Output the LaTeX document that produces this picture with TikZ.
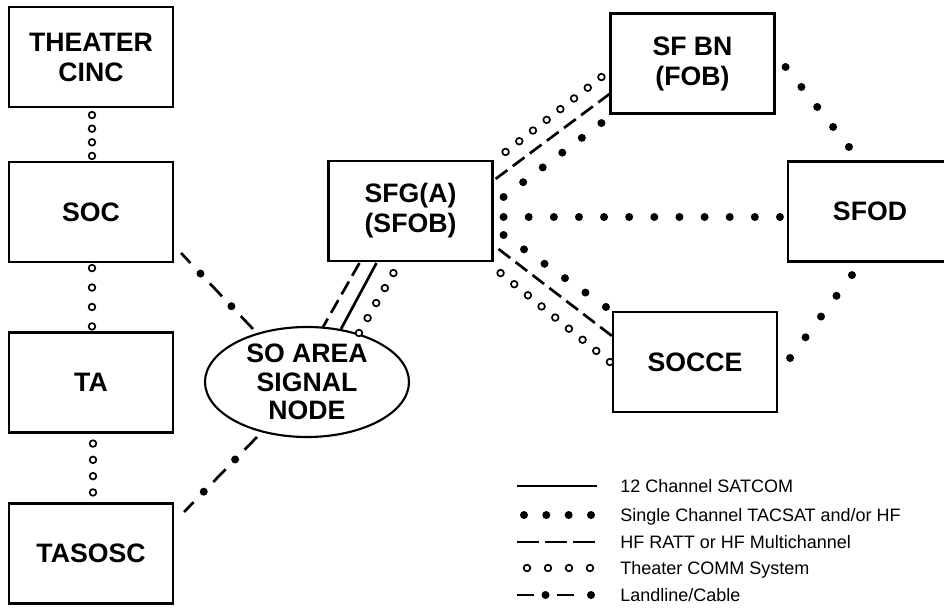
\documentclass[tikz,border=0pt]{standalone}
\usepackage{fontspec}
\setmainfont{Liberation Sans}
\usetikzlibrary{calc,shapes.geometric}
\newcommand\filldots[3]{\foreach \k in {0,...,#3}{\fill ($(#1)!\k/#3!(#2)$) circle[radius=3pt];}}
\newcommand\opendots[3]{\foreach \k in {0,...,#3}{\draw[line width=1.25pt,fill=white] ($(#1)!\k/#3!(#2)$) circle[radius=2.5pt];}}
\newcommand\landln[2]{%
 \draw[line width=2pt] ($(#1)!0!(#2)$) -- ($(#1)!0.13!(#2)$);
 \draw[line width=2pt] ($(#1)!0.40!(#2)$) -- ($(#1)!0.57!(#2)$);
 \draw[line width=2pt] ($(#1)!0.83!(#2)$) -- ($(#1)!1!(#2)$);
 \fill ($(#1)!0.27!(#2)$) circle[radius=3pt];
 \fill ($(#1)!0.70!(#2)$) circle[radius=3pt];}
\begin{document}
\begin{tikzpicture}[x=0.75pt,y=-0.75pt,
  bx/.style={draw, line width=1.6pt, inner sep=0pt, minimum width=123pt, minimum height=75pt,
    align=center, font=\bfseries\fontsize{20}{22.5}\selectfont},
  ell/.style={ellipse, draw, line width=1.6pt, inner sep=0pt, minimum width=153pt, minimum height=82.5pt,
    align=center, font=\bfseries\fontsize{20}{21.5}\selectfont},
  hfdash/.style={line width=2pt, dash pattern=on 11pt off 5pt},
  satcom/.style={line width=2pt},
  legtxt/.style={anchor=base west, inner sep=0pt, font=\fontsize{13.5}{16}\selectfont}]
\useasboundingbox (0,0) rectangle (944,613);

% boxes
\node[bx] (tc) at (91,57) {THEATER\\CINC};
\node[bx] (soc) at (91,212) {SOC};
\node[bx] (ta) at (91,382.5) {TA};
\node[bx] (tasosc) at (91,553.5) {TASOSC};
\node[bx] (sfg) at (410.5,211) {SFG(A)\\(SFOB)};
\node[bx] (sfbn) at (692.5,63.5) {SF BN\\(FOB)};
\node[bx] (sfod) at (870,211.5) {SFOD};
\node[bx] (socce) at (695,362) {SOCCE};
\node[ell] (so) at (307,382) {SO AREA\\SIGNAL\\NODE};

% left column theater comm
\coordinate (c1a) at ($(tc.south)+(1,7)$);
\coordinate (c1b) at ($(soc.north)+(1,-5)$);
\coordinate (c2a) at ($(soc.south)+(1,5)$);
\coordinate (c2b) at ($(ta.north)+(1,-5)$);
\coordinate (c3a) at ($(ta.south)+(2,10)$);
\coordinate (c3b) at ($(tasosc.north)+(2,-10)$);
\opendots{c1a}{c1b}{3}
\opendots{c2a}{c2b}{3}
\opendots{c3a}{c3b}{3}

% landlines to signal node
\coordinate (l1a) at ($(soc.south east)+(7,-10)$);
\coordinate (l1b) at ($(so.center)+(-54,-53)$);
\coordinate (l2a) at ($(tasosc.north east)+(10,9.5)$);
\coordinate (l2b) at ($(so.center)+(-50,55)$);
\landln{l1a}{l1b}
\landln{l2a}{l2b}

% SFG to signal node
\coordinate (e1a) at ($(sfg.south west)+(32,1)$);
\coordinate (e1b) at ($(so.center)+(16,-55)$);
\coordinate (e2a) at ($(sfg.south west)+(49,1)$);
\coordinate (e2b) at ($(so.center)+(34,-53)$);
\coordinate (e3a) at ($(sfg.south west)+(66,11)$);
\coordinate (e3b) at ($(so.center)+(52,-49)$);
\draw[hfdash] (e1a) -- (e1b);
\draw[satcom] (e2a) -- (e2b);
\opendots{e3a}{e3b}{4}

% SFG to SF BN
\coordinate (b1a) at ($(sfg.north east)+(12,-8)$);
\coordinate (b1b) at ($(sfbn.south west)+(-8,-37.5)$);
\coordinate (b2a) at ($(sfg.north east)+(2,19)$);
\coordinate (b2b) at ($(sfbn.south west)+(0,-20.5)$);
\coordinate (b3a) at ($(sfg.east)+(10,-14)$);
\coordinate (b3b) at ($(sfbn.south west)+(-8,8.5)$);
\opendots{b1a}{b1b}{7}
\draw[hfdash] (b2a) -- (b2b);
\filldots{b3a}{b3b}{5}

% SFG to SFOD
\coordinate (d1a) at ($(sfg.east)+(10,6)$);
\coordinate (d1b) at ($(sfod.west)+(-7,5.5)$);
\filldots{d1a}{d1b}{11}

% SFG to SOCCE
\coordinate (s1a) at ($(sfg.east)+(10,24)$);
\coordinate (s1b) at ($(socce.north west)+(-6,-4)$);
\coordinate (s2a) at ($(sfg.south east)+(5,-13)$);
\coordinate (s2b) at ($(socce.north west)+(0,25)$);
\coordinate (s3a) at ($(sfg.south east)+(7,11)$);
\coordinate (s3b) at ($(socce.west)+(-2,0)$);
\filldots{s1a}{s1b}{5}
\draw[hfdash] (s2a) -- (s2b);
\opendots{s3a}{s3b}{8}

% SF BN and SOCCE to SFOD
\coordinate (f1a) at ($(sfbn.east)+(10,3.5)$);
\coordinate (f1b) at ($(sfod.north west)+(62,-13.5)$);
\coordinate (f2a) at ($(socce.east)+(12,-4)$);
\coordinate (f2b) at ($(sfod.south west)+(65,12.5)$);
\filldots{f1a}{f1b}{4}
\filldots{f2a}{f2b}{4}

% legend
\coordinate (g1a) at (517,486);
\coordinate (g1b) at (597,486);
\draw[satcom] (g1a) -- (g1b);
\coordinate (g2a) at (524,515);
\coordinate (g2b) at (591,515);
\filldots{g2a}{g2b}{3}
\coordinate (g3a) at (517,542);
\coordinate (g3b) at (595,542);
\draw[line width=2pt, dash pattern=on 16.5pt off 4.5pt] (g3a) -- (g3b);
\coordinate (g4a) at (527,568);
\coordinate (g4b) at (590,568);
\opendots{g4a}{g4b}{3}
\coordinate (g5a) at (517,595);
\coordinate (g5b) at (534,595);
\coordinate (g5c) at (557,595);
\coordinate (g5d) at (574,595);
\draw[line width=2pt] (g5a) -- (g5b);
\draw[line width=2pt] (g5c) -- (g5d);
\fill ($(g5b)!0.5!(g5c)$) circle[radius=3pt];
\fill ($(g5d)+(17,0)$) circle[radius=3pt];

\node[legtxt] (t1) at (620,492.5) {12 Channel SATCOM};
\node[legtxt] (t2) at (620,521.5) {Single Channel TACSAT and/or HF};
\node[legtxt] (t3) at (620,548.5) {HF RATT or HF Multichannel};
\node[legtxt] (t4) at (620,574.5) {Theater COMM System};
\node[legtxt] (t5) at (620,601.5) {Landline/Cable};
\end{tikzpicture}
\end{document}
